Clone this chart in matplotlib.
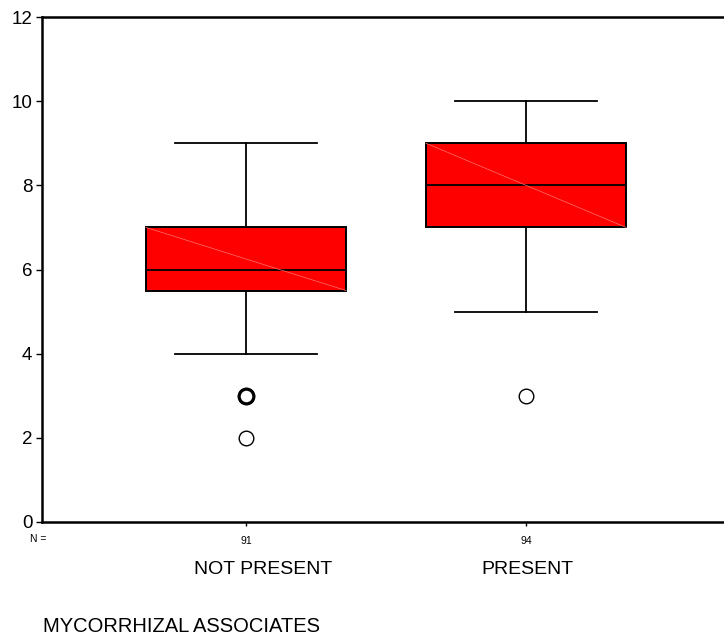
import matplotlib.pyplot as plt

plt.rcParams['font.family'] = ['Liberation Sans', 'DejaVu Sans']

groups = ['NOT PRESENT', 'PRESENT']
counts = [91, 94]
whislo = [4, 5]
q1 = [5.5, 7]
med = [6, 8]
q3 = [7, 9]
whishi = [9, 10]
outliers = [[3, 3, 2], [3]]
# outliers where several cases sit on the same value (drawn heavier)
repeated = [[3], []]

stats = []
for i in range(len(groups)):
    stats.append(dict(whislo=whislo[i], q1=q1[i], med=med[i], q3=q3[i],
                      whishi=whishi[i], fliers=[]))

fig = plt.figure(figsize=(7.24, 6.41), dpi=100)
ax = fig.add_axes([42 / 724, 119 / 641, 688 / 724, 505 / 641])

pos = [1, 2]
bw = 0.715
ax.bxp(stats, positions=pos, widths=bw, patch_artist=True, showfliers=False,
       boxprops=dict(facecolor='#ff0000', edgecolor='black', linewidth=1.4),
       medianprops=dict(color='black', linewidth=1.3),
       whiskerprops=dict(color='black', linewidth=1.3),
       capprops=dict(color='black', linewidth=1.3),
       capwidths=0.51)

for i, p in enumerate(pos):
    # faint diagonal seen inside the filled boxes
    ax.plot([p - bw / 2, p + bw / 2], [q3[i], q1[i]], color='#ff7070',
            lw=0.5, zorder=3)
    for v in outliers[i]:
        heavy = v in repeated[i]
        ax.plot(p, v, 'o', mfc='white', mec='black', ms=10.5,
                mew=2.2 if heavy else 1.0, zorder=4)

ax.set_xlim(1 - 204 / 280, 2 + 204 / 280)
ax.set_ylim(0, 12)
ax.set_yticks(range(0, 13, 2))
ax.set_xticks(pos)
ax.set_xticklabels([str(c) for c in counts], fontsize=7.5)
ax.tick_params(axis='x', length=3, width=1, pad=7)
ax.tick_params(axis='y', length=4, width=1, pad=3, labelsize=13.5)
ax.spines['right'].set_visible(False)
for s in ['left', 'bottom', 'top']:
    ax.spines[s].set_linewidth(1.8)

ax.text(30 / 724, 1 - 539 / 641, 'N =', transform=fig.transFigure,
        fontsize=7.5, ha='left', va='center')
ax.text(263 / 724, 1 - 570 / 641, groups[0], transform=fig.transFigure,
        fontsize=14, ha='center', va='center')
ax.text(527 / 724, 1 - 570 / 641, groups[1], transform=fig.transFigure,
        fontsize=14, ha='center', va='center')
ax.text(43 / 724, 1 - 627 / 641, 'MYCORRHIZAL ASSOCIATES',
        transform=fig.transFigure, fontsize=14.5, ha='left', va='center')

fig.savefig('out.png', dpi=100)
